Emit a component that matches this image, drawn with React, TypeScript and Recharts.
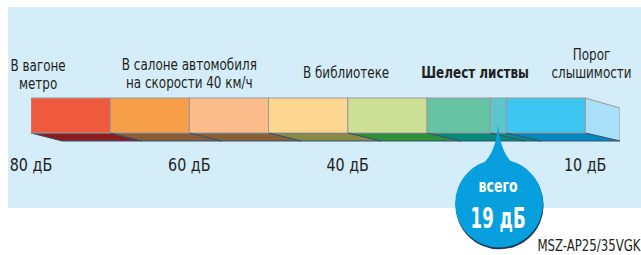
import { BarChart, Bar, XAxis, YAxis, ReferenceDot } from 'recharts';

// шкала громкости, дБ (границы цветных блоков справа налево)
const rowName = 'шум';
const edgeDb = [5.6, 10, 20, 22, 30, 40, 50, 60, 70, 80];
const tickDb = [80, 60, 40, 10];

// подписи источников шума над шкалой
const sourceLines = [
  ['В вагоне', 'метро'],
  ['В салоне автомобиля', 'на скорости 40 км/ч'],
  ['В библиотеке'],
  ['Шелест листвы'],
  ['Порог', 'слышимости'],
];
const sourceDb = [79.1, 60, 40.2, 23.9, 9.2];

const calloutDb = 21;
const calloutTitle = 'всего';
const calloutValue = '19 дБ';
const modelName = 'MSZ-AP25/35VGK';

// styles
const FONT = '"DejaVu Sans Condensed", "DejaVu Sans", sans-serif';
const faceColors = ['#A9E0F8', '#3DC6F1', '#5CC6CC', '#65C3A4', '#CCDF95', '#FDD690', '#FBBC8B', '#F69F48', '#EF593D'];
const shadowColors = ['none', '#0588BF', '#078A8F', '#04897A', '#2F9137', '#8A8A45', '#8A6038', '#8A5C37', '#8A1C20'];
const sourceBold = [false, false, false, true, false];
const sourceBaseline = [89, 88, 78, 78, 78];
const PLOT_LEFT = 31;
const DEPTH = 8;
const SQUEEZE = 0.86;

const row: Record<string, string | number> = { name: rowName, base: edgeDb[0] };
const segKeys: string[] = [];
for (let i = 1; i < edgeDb.length; i++) {
  const key = 'seg' + (i - 1);
  row[key] = +(edgeDb[i] - edgeDb[i - 1]).toFixed(2);
  segKeys.push(key);
}
const data = [row];

const shift = (x: number) => 31 + (x - PLOT_LEFT) * 0.0072;

// condensed text: the fonts here are wider than the original
const CText = ({ x, y, size, bold = false, fill = '#231F20', sx = SQUEEZE, children }: any) => (
  <text
    transform={`translate(${x},${y}) scale(${sx},1)`}
    textAnchor="middle"
    fontFamily={FONT}
    fontSize={size}
    fontWeight={bold ? 700 : 400}
    fill={fill}
  >
    {children}
  </text>
);

const makeShape = (idx: number) => (props: any) => {
  const { x, y, width, height } = props;
  const l = Math.min(x, x + width);
  const r = Math.max(x, x + width);
  const by = y + height - DEPTH;
  const bb = y + height;
  if (idx === 0) {
    // торец шкалы
    return (
      <polygon
        points={`${l},${y} ${r},${y + 10} ${r},${bb} ${l},${by}`}
        fill={faceColors[0]}
        stroke="#9A9A9A"
        strokeWidth={1}
      />
    );
  }
  return (
    <g>
      <polygon
        points={`${l},${by} ${r},${by} ${r + shift(r)},${bb} ${l + shift(l)},${bb}`}
        fill={shadowColors[idx]}
        stroke="#33556C"
        strokeWidth={1}
      />
      <rect x={l} y={y} width={r - l} height={height - DEPTH} fill={faceColors[idx]} stroke="#9A9A9A" strokeWidth={1} />
    </g>
  );
};

const makeSource = (i: number) => (props: any) => {
  const { cx } = props;
  const lines = sourceLines[i];
  const last = sourceBaseline[i];
  return (
    <g>
      {lines.map((t, k) => (
        <CText key={k} x={cx} y={last - (lines.length - 1 - k) * 18} size={15.5} bold={sourceBold[i]}>
          {t}
        </CText>
      ))}
    </g>
  );
};

const DbTick = (props: any) => {
  const { x, y, payload } = props;
  return (
    <CText x={x} y={y + 13} size={18.5}>
      {`${payload.value} дБ`}
    </CText>
  );
};

const Callout = (props: any) => {
  const { cx, cy } = props;
  const tip = cy + 5;
  const c = cy + 84;
  return (
    <g>
      <circle cx={cx + 1.5} cy={c + 1.8} r={44} fill="#1C3A55" />
      <path
        d={`M${cx},${tip} Q${cx - 2},${cy + 34} ${cx - 17},${cy + 46} L${cx + 17},${cy + 46} Q${cx + 2},${cy + 34} ${cx},${tip} Z`}
        fill="#079FDD"
      />
      <circle cx={cx + 1} cy={c} r={44} fill="#079FDD" />
      <CText x={cx} y={c - 12} size={17} bold fill="#fff" sx={0.82}>
        {calloutTitle}
      </CText>
      <CText x={cx} y={c + 24} size={28} bold fill="#fff" sx={0.66}>
        {calloutValue}
      </CText>
    </g>
  );
};

export default function App() {
  return (
    <div style={{ position: 'absolute', left: 0, top: 0, width: 641, height: 255, background: '#fff' }}>
      <div style={{ position: 'absolute', left: 8, top: 7, width: 633, height: 201, background: '#D5EDF9' }} />
      <div style={{ position: 'absolute', left: 0, top: 0 }}>
        <BarChart
          width={641}
          height={255}
          data={data}
          layout="vertical"
          barCategoryGap={0}
          margin={{ top: 98, right: 21, bottom: 84, left: PLOT_LEFT }}
        >
          <XAxis
            type="number"
            domain={[edgeDb[0], 80]}
            reversed
            allowDataOverflow
            ticks={tickDb}
            axisLine={false}
            tickLine={false}
            tickMargin={11}
            tick={<DbTick />}
          />
          <YAxis type="category" dataKey="name" hide />
          <Bar dataKey="base" stackId="s" fill="none" isAnimationActive={false} shape={() => <g />} />
          {segKeys.map((k, i) => (
            <Bar key={k} dataKey={k} stackId="s" isAnimationActive={false} shape={makeShape(i)} />
          ))}
          {sourceDb.map((v, i) => (
            <ReferenceDot key={i} x={v} y={rowName} r={0} shape={makeSource(i)} />
          ))}
          <ReferenceDot x={calloutDb} y={rowName} r={0} shape={Callout} />
        </BarChart>
      </div>
      <div
        style={{
          position: 'absolute',
          right: 0,
          top: 238,
          fontFamily: FONT,
          fontSize: 15,
          color: '#231F20',
          lineHeight: '16px',
          transform: 'scaleX(0.87)',
          transformOrigin: 'right',
        }}
      >
        {modelName}
      </div>
    </div>
  );
}
